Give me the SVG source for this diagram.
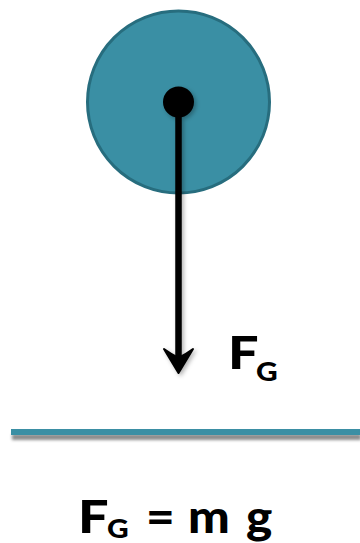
<svg xmlns="http://www.w3.org/2000/svg" width="360" height="543" viewBox="0 0 360 543">
  <defs>
    <filter id="sh" x="-20%" y="-50%" width="140%" height="400%">
      <feDropShadow dx="1" dy="5" stdDeviation="1.5" flood-color="#000" flood-opacity="0.45"/>
    </filter>
    <filter id="sh2" x="-50%" y="-10%" width="200%" height="120%">
      <feDropShadow dx="2" dy="2" stdDeviation="2" flood-color="#000" flood-opacity="0.3"/>
    </filter>
  </defs>
  <style>
    .lbl { font-family: Lato, "Open Sans", "DejaVu Sans", sans-serif; font-weight: 900; fill: #000; }
  </style>
  <rect width="360" height="543" fill="#fff"/>
  <g id="ball">
    <circle cx="178.5" cy="102" r="91" fill="#3a8fa4" stroke="#276d7e" stroke-width="3"/>
  </g>
  <g id="connectors" filter="url(#sh2)">
    <line x1="178.5" y1="102" x2="178.5" y2="362" stroke="#000" stroke-width="6.5"/>
    <path d="M178.5,373 L164,349 Q171,354 178.5,358 Q186,354 193,349 Z" fill="#000" stroke="#000" stroke-width="2" stroke-linejoin="round"/>
    <circle cx="178.5" cy="102" r="15.5" fill="#000"/>
  </g>
  <g id="force-label">
    <text class="lbl" x="228" y="369" font-size="45" transform="translate(228 369) scale(1.2 1) translate(-228 -369)">F</text>
    <text class="lbl" x="256" y="381" font-size="26" transform="translate(256 381) scale(1.15 1) translate(-256 -381)">G</text>
  </g>
  <g id="ground">
    <rect x="11" y="429" width="349" height="6" fill="#3a8fa4" filter="url(#sh)"/>
  </g>
  <g id="equation">
    <text class="lbl" x="78" y="533" font-size="45" transform="translate(78 533) scale(1.2 1) translate(-78 -533)">F</text>
    <text class="lbl" x="107" y="538" font-size="26" transform="translate(107 538) scale(1.15 1) translate(-107 -538)">G</text>
    <text class="lbl" x="146" y="533" font-size="45" transform="translate(146 533) scale(1.1 1) translate(-146 -533)">=</text>
    <text class="lbl" x="188" y="533" font-size="45" transform="translate(188 533) scale(1.1 1) translate(-188 -533)">m</text>
    <text class="lbl" x="246" y="533" font-size="45" transform="translate(246 533) scale(1.1 1) translate(-246 -533)">g</text>
  </g>
</svg>
